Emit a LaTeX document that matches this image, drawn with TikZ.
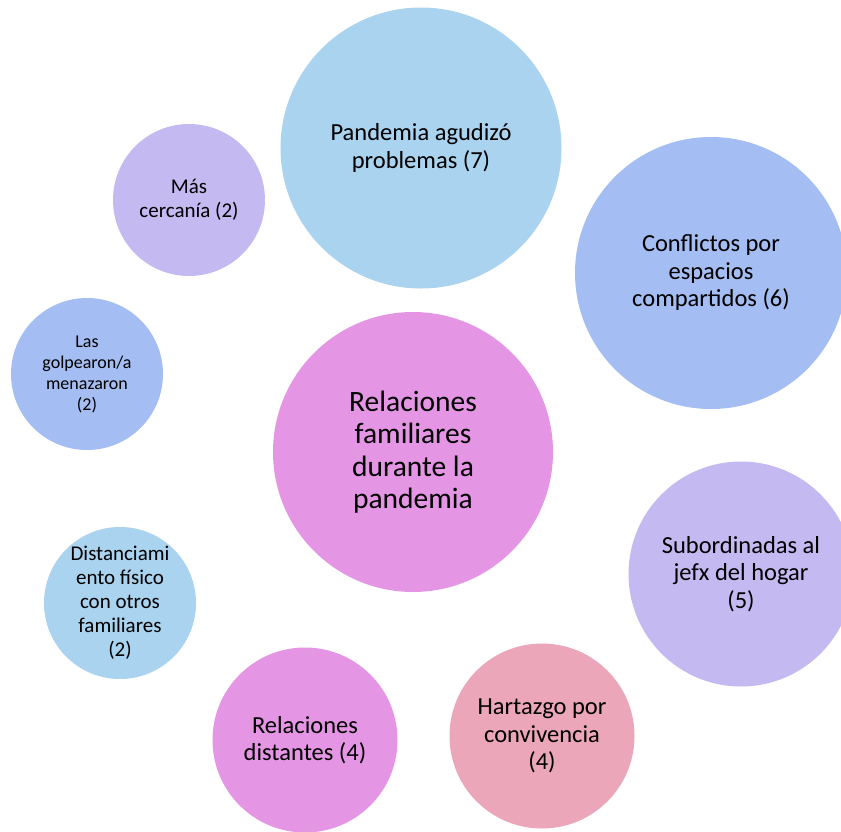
\documentclass[tikz,border=0pt]{standalone}
\usepackage{fontspec}
\setmainfont{Carlito}
\usepackage{xcolor}
\definecolor{skyblue}{HTML}{A9D3EE}
\definecolor{periwinkle}{HTML}{A4BDF2}
\definecolor{lavender}{HTML}{C4B9F0}
\definecolor{orchid}{HTML}{E495E4}
\definecolor{rosepink}{HTML}{EBA6BA}

\begin{document}
\begin{tikzpicture}[
  x=1pt, y=-1pt,
  bubble/.style={circle, fill=#1, inner sep=0pt, align=center, text=black},
  big/.style={font=\fontsize{29.5}{32.5}\selectfont},
  mid/.style={font=\fontsize{24.5}{27.5}\selectfont},
  small/.style={font=\fontsize{21}{24}\selectfont},
  tiny/.style={font=\fontsize{18}{21}\selectfont},
]
\useasboundingbox (0,0) rectangle (841,831);
% central topic
\node[bubble=orchid, minimum size=280pt, big] (centro) at (413,452) {Relaciones\\familiares\\durante la\\pandemia};
% large bubbles
\node[bubble=skyblue, minimum size=281pt, mid] (agudizo) at (421,148) {Pandemia agudizó\\problemas (7)};
\node[bubble=periwinkle, minimum size=272pt, mid] (conflictos) at (711,273) {Conflictos por\\espacios\\compartidos (6)};
\node[bubble=lavender, minimum size=225pt, mid] (subordinadas) at (741,574) {Subordinadas al\\jefx del hogar\\(5)};
\node[bubble=rosepink, minimum size=185pt, mid] (hartazgo) at (542,736) {Hartazgo por\\convivencia\\(4)};
\node[bubble=orchid, minimum size=185pt, mid] (distantes) at (305,740) {Relaciones\\distantes (4)};
% small bubbles
\node[bubble=skyblue, minimum size=152pt, small] (distanciamiento) at (120,603) {Distanciami\\ento físico\\con otros\\familiares\\(2)};
\node[bubble=periwinkle, minimum size=152pt, tiny] (golpes) at (87,374) {Las\\golpearon/a\\menazaron\\(2)};
\node[bubble=lavender, minimum size=152pt, small] (cercania) at (189,200) {Más\\cercanía (2)};
\end{tikzpicture}
\end{document}
